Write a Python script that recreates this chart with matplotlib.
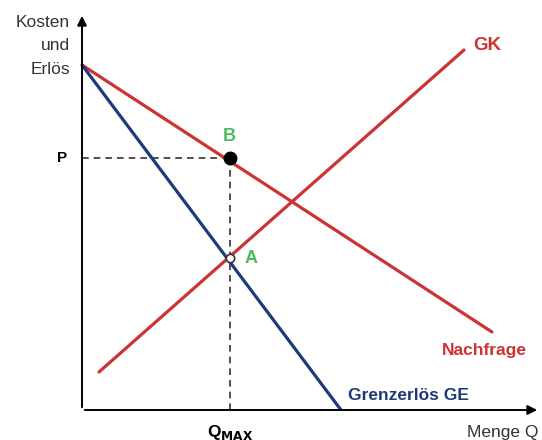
import numpy as np
import matplotlib.pyplot as plt

plt.rcParams['font.family'] = ['Liberation Sans', 'DejaVu Sans']

# line endpoints (menge, preis) in chart units
nachfrage_q = [0, 410]
nachfrage_p = [345, 78]
ge_q = [0, 259]
ge_p = [345, 0]
gk_q = [17, 382]
gk_p = [38, 360]

q_max = 148
p_b = 252
p_a = 152

red = '#cc3333'
navy = '#1f3a7a'
green = '#4cbb5a'

fig = plt.figure(figsize=(5.42, 4.40), dpi=100)
ax = fig.add_axes([0, 0, 1, 1])
ax.set_xlim(-82, 460)
ax.set_ylim(-30, 410)
ax.axis('off')

# axes with arrows
ax.annotate('', xy=(458, 0), xytext=(0, 0),
            arrowprops=dict(arrowstyle='-|>', color='black', lw=1.4, mutation_scale=14))
ax.annotate('', xy=(0, 397), xytext=(0, 0),
            arrowprops=dict(arrowstyle='-|>', color='black', lw=1.4, mutation_scale=14))

# dashed helper lines
ax.plot([0, q_max], [p_b, p_b], ls=(0, (4, 3)), color='#333333', lw=1.2)
ax.plot([q_max, q_max], [0, p_b], ls=(0, (4, 3)), color='#333333', lw=1.2)

ax.plot(nachfrage_q, nachfrage_p, color=red, lw=2.3, solid_capstyle='round')
ax.plot(gk_q, gk_p, color=red, lw=2.3, solid_capstyle='round')
ax.plot(ge_q, ge_p, color=navy, lw=2.3, solid_capstyle='butt')

ax.plot(q_max, p_b, 'o', color='black', ms=9, zorder=5)
ax.plot(q_max, p_a, 'o', mfc='white', mec='#333333', ms=6, mew=1.2, zorder=5)

ax.text(147, 274, 'B', color=green, fontsize=13, fontweight='bold', ha='center', va='center')
ax.text(169, 152, 'A', color=green, fontsize=13, fontweight='bold', ha='center', va='center')
ax.text(-20, 252, 'P', fontsize=11, fontweight='bold', ha='center', va='center')
ax.text(-12, 395, 'Kosten\nund\nErlös', fontsize=12.5, ha='right', va='top',
        color='#333333', linespacing=1.7)
ax.text(405, 365, 'GK', color=red, fontsize=13.5, fontweight='bold', ha='center', va='center')
ax.text(402, 60, 'Nachfrage', color=red, fontsize=12.5, fontweight='bold', ha='center', va='center')
ax.text(326, 15, 'Grenzerlös GE', color=navy, fontsize=12.5, fontweight='bold', ha='center', va='center')
ax.text(421, -22, 'Menge Q', color='#333333', fontsize=12.5, ha='center', va='center')
ax.text(q_max, -22, r'Q$_{\mathbf{MAX}}$', fontsize=12.5, fontweight='bold', ha='center', va='center')

fig.savefig('out.png', dpi=100)
